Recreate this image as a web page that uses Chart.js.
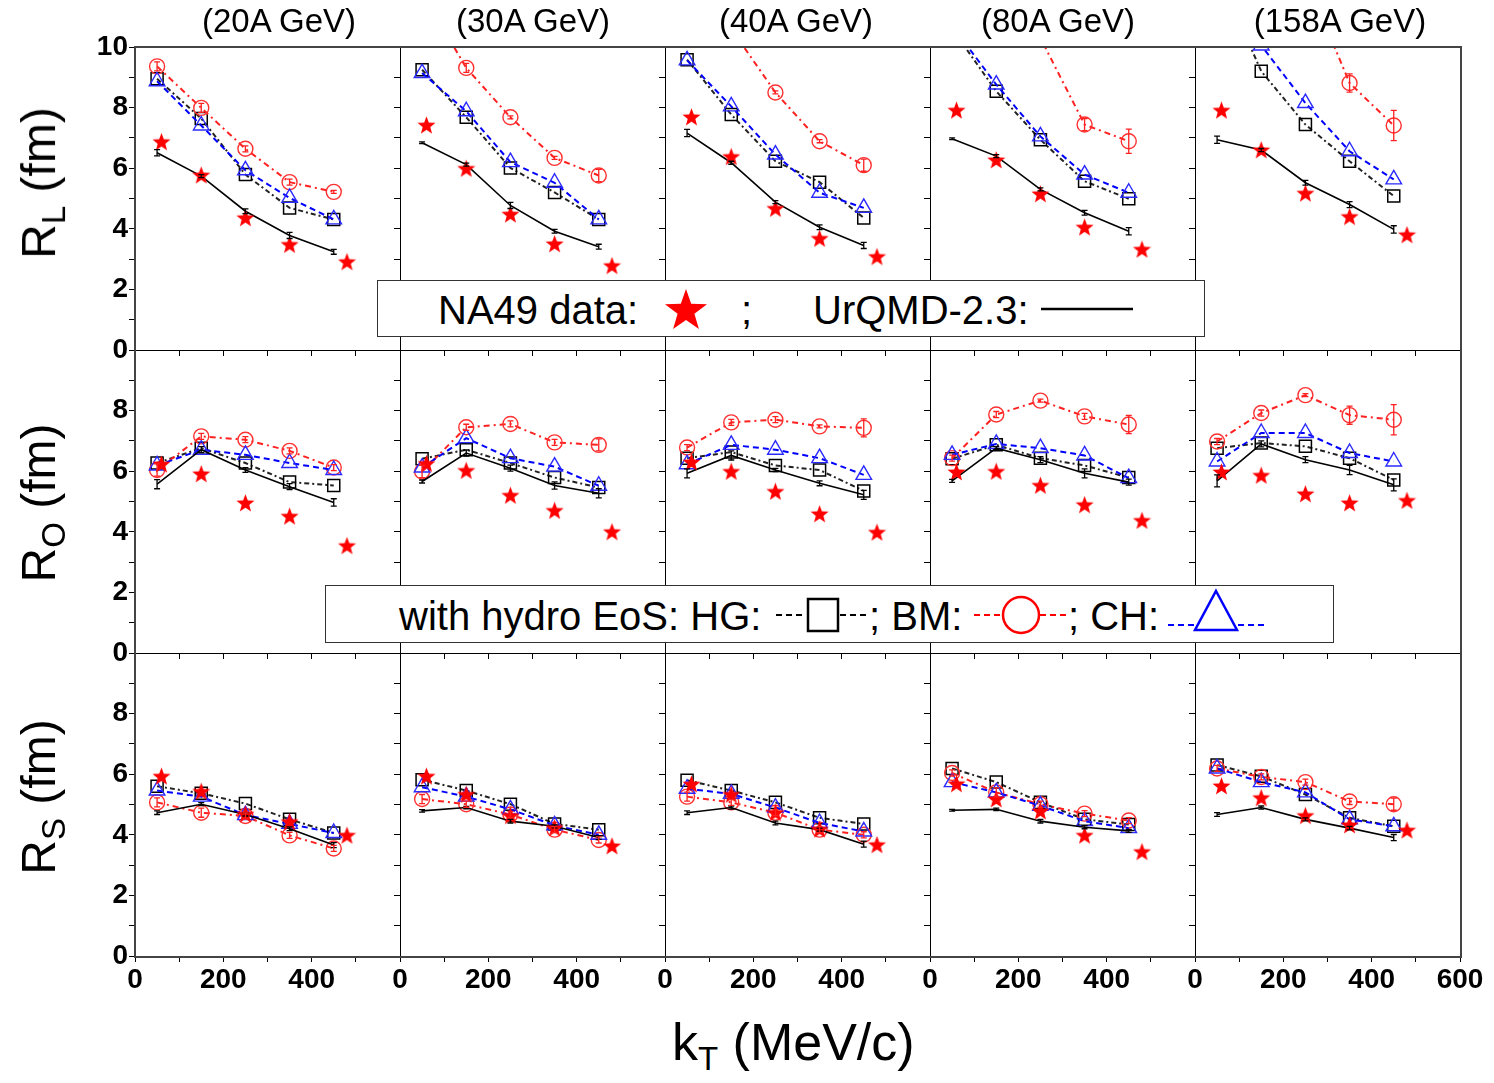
<!DOCTYPE html>
<html>
<head>
<meta charset="utf-8">
<script src="https://cdn.jsdelivr.net/npm/chart.js@4.4.0/dist/chart.umd.min.js"></script>
<style>
  body { margin: 0; background: #fff; width: 1494px; height: 1083px; position: relative; overflow: hidden;
         font-family: "Liberation Sans", Arial, sans-serif; color: #000; }
  .panel { position: absolute; }
  .title { position: absolute; top: 2px; font-size: 33px; transform: translateX(-50%); white-space: nowrap; }
  .ylab { position: absolute; font-size: 48px; white-space: nowrap; transform: translate(-50%, -50%) rotate(-90deg); }
  .ylab sub, .xlab sub { font-size: 33px; vertical-align: -0.3em; }
  .xlab { position: absolute; font-size: 52px; white-space: nowrap; left: 672px; top: 1012px; }
  .legend { position: absolute; background: #fff; border: 1.5px solid #333; z-index: 5; }
  .legend span { position: absolute; font-size: 40px; line-height: 40px; white-space: nowrap; }
  .legend svg { position: absolute; }
  #frame { position: absolute; box-sizing: border-box; left: 134px; top: 46px; width: 1328px; height: 912px; border: 2px solid #444; pointer-events: none; z-index: 4; }
</style>
</head>
<body>
<div id="frame"></div>

<script>
const energies = ['(20A GeV)', '(30A GeV)', '(40A GeV)', '(80A GeV)', '(158A GeV)'];
const kT = [50, 150, 250, 350, 450];
const kTdata = [60, 150, 250, 350, 480];
const radii = ['L', 'O', 'S'];

// R_L, one row per energy
const rL_na49 = [[6.89, 5.79, 4.38, 3.5, 2.93], [7.44, 6.01, 4.5, 3.52, 2.8], [7.71, 6.4, 4.69, 3.7, 3.1], [7.93, 6.29, 5.17, 4.07, 3.34], [7.93, 6.62, 5.19, 4.42, 3.82]];
const rL_urqmd = [[6.51, 5.74, 4.58, 3.78, 3.24], [6.84, 6.12, 4.77, 3.92, 3.41], [7.16, 6.18, 4.88, 4.05, 3.45], [6.97, 6.4, 5.3, 4.53, 3.92], [6.94, 6.6, 5.52, 4.8, 3.98]];
const rL_hg = [[8.95, 7.64, 5.79, 4.69, 4.31], [9.25, 7.68, 6.01, 5.2, 4.31], [9.58, 7.77, 6.23, 5.54, 4.36], [10.6, 8.54, 6.94, 5.57, 4.99], [12.5, 9.2, 7.44, 6.23, 5.08]];
const rL_bm = [[9.36, 7.99, 6.64, 5.54, 5.22], [11.8, 9.31, 7.68, 6.34, 5.76], [12.5, 10.6, 8.5, 6.89, 6.1], [13.0, 12.0, 10.3, 7.44, 6.89], [15.0, 13.8, 12.3, 8.81, 7.41]];
const rL_ch = [[8.87, 7.41, 5.93, 5.02, 4.31], [9.14, 7.88, 6.2, 5.52, 4.31], [9.56, 8.04, 6.45, 5.19, 4.69], [10.7, 8.76, 7.05, 5.79, 5.19], [12.0, 10.05, 8.15, 6.56, 5.63]];
const rL_urqmdErr = [[0.1, 0.05, 0.08, 0.1, 0.08], [0.03, 0.05, 0.1, 0.06, 0.08], [0.12, 0.05, 0.05, 0.08, 0.1], [0.03, 0.05, 0.05, 0.08, 0.12], [0.12, 0.05, 0.08, 0.1, 0.12]];
const rL_bmErr = [[0.15, 0.15, 0.1, 0.1, 0.05], [0, 0.15, 0.05, 0.05, 0.2], [0, 0, 0.05, 0.05, 0.2], [0, 0, 0, 0.2, 0.4], [0, 0, 0, 0.3, 0.5]];

// R_O
const rO_na49 = [[6.25, 5.93, 4.97, 4.53, 3.56], [6.27, 6.04, 5.22, 4.72, 4.02], [6.32, 6.01, 5.35, 4.61, 4.0], [5.99, 6.01, 5.55, 4.91, 4.39], [5.99, 5.88, 5.27, 4.97, 5.05]];
const rO_urqmd = [[5.57, 6.71, 6.04, 5.49, 4.97], [5.66, 6.6, 6.1, 5.53, 5.27], [5.93, 6.52, 6.04, 5.6, 5.22], [5.68, 6.76, 6.38, 5.93, 5.64], [5.68, 6.9, 6.38, 6.04, 5.55]];
const rO_hg = [[6.27, 6.76, 6.27, 5.64, 5.53], [6.41, 6.71, 6.27, 5.79, 5.46], [6.43, 6.63, 6.19, 6.04, 5.35], [6.41, 6.87, 6.43, 6.19, 5.79], [6.76, 6.93, 6.82, 6.43, 5.71]];
const rO_bm = [[6.04, 7.15, 7.04, 6.67, 6.12], [5.99, 7.45, 7.56, 6.95, 6.87], [6.78, 7.61, 7.7, 7.48, 7.43], [6.43, 7.87, 8.33, 7.81, 7.54], [6.98, 7.92, 8.51, 7.85, 7.7]];
const rO_ch = [[6.19, 6.71, 6.54, 6.27, 6.04], [6.12, 7.09, 6.43, 6.15, 5.52], [6.23, 6.87, 6.71, 6.43, 5.88], [6.54, 6.9, 6.76, 6.52, 5.77], [6.32, 7.26, 7.26, 6.6, 6.32]];
const rO_urqmdErr = [[0.15, 0.1, 0.08, 0.1, 0.12], [0.05, 0.1, 0.1, 0.12, 0.15], [0.15, 0.15, 0.05, 0.08, 0.15], [0.05, 0.05, 0.1, 0.15, 0.1], [0.2, 0.1, 0.1, 0.15, 0.2]];
const rO_bmErr = [[0.2, 0.1, 0.1, 0.1, 0.1], [0.2, 0.1, 0.1, 0.1, 0.2], [0.1, 0.1, 0.1, 0.05, 0.3], [0.1, 0.1, 0.05, 0.1, 0.3], [0.1, 0.1, 0.05, 0.3, 0.5]];

// R_S
const rS_na49 = [[5.95, 5.45, 4.7, 4.45, 4.0], [5.95, 5.35, 4.65, 4.25, 3.65], [5.69, 5.35, 4.75, 4.2, 3.69], [5.7, 5.2, 4.8, 4.0, 3.46], [5.63, 5.24, 4.65, 4.34, 4.17]];
const rS_urqmd = [[4.73, 5.01, 4.67, 4.2, 3.66], [4.79, 4.9, 4.45, 4.28, 3.91], [4.73, 4.9, 4.39, 4.17, 3.69], [4.81, 4.84, 4.45, 4.25, 4.13], [4.67, 4.9, 4.51, 4.22, 3.91]];
const rS_hg = [[5.6, 5.37, 5.03, 4.51, 4.06], [5.82, 5.46, 5.01, 4.36, 4.17], [5.8, 5.46, 5.07, 4.56, 4.36], [6.19, 5.74, 5.07, 4.51, 4.34], [6.3, 5.93, 5.33, 4.56, 4.28]];
const rS_bm = [[5.07, 4.73, 4.62, 3.98, 3.55], [5.18, 5.01, 4.67, 4.17, 3.83], [5.26, 5.07, 4.73, 4.17, 4.0], [6.04, 5.4, 5.01, 4.7, 4.47], [6.19, 5.91, 5.74, 5.1, 5.01]];
const rS_ch = [[5.46, 5.26, 4.65, 4.36, 4.06], [5.57, 5.26, 4.84, 4.31, 4.0], [5.52, 5.35, 4.9, 4.39, 4.11], [5.74, 5.4, 4.96, 4.45, 4.22], [6.19, 5.74, 5.4, 4.51, 4.28]];
const rS_urqmdErr = [[0.06, 0.05, 0.05, 0.06, 0.08], [0.04, 0.04, 0.06, 0.05, 0.06], [0.06, 0.05, 0.06, 0.05, 0.1], [0.03, 0.04, 0.06, 0.05, 0.05], [0.06, 0.05, 0.05, 0.06, 0.1]];
const rS_bmErr = [[0.15, 0.15, 0.1, 0.1, 0.1], [0.15, 0.1, 0.1, 0.1, 0.1], [0.15, 0.1, 0.1, 0.1, 0.1], [0.1, 0.15, 0.1, 0.1, 0.1], [0.1, 0.1, 0.1, 0.1, 0.2]];

const rows = [
  { na49: rL_na49, urqmd: rL_urqmd, hg: rL_hg, bm: rL_bm, ch: rL_ch, uErr: rL_urqmdErr, bErr: rL_bmErr },
  { na49: rO_na49, urqmd: rO_urqmd, hg: rO_hg, bm: rO_bm, ch: rO_ch, uErr: rO_urqmdErr, bErr: rO_bmErr },
  { na49: rS_na49, urqmd: rS_urqmd, hg: rS_hg, bm: rS_bm, ch: rS_ch, uErr: rS_urqmdErr, bErr: rS_bmErr }
];

// panel geometry
const colLeft = [135, 400, 665, 930, 1195];
const rowTop = [47, 350, 653];
const plotW = 265, plotH = 303;
const padL = 70, padR = 30, padT = 24, padB = 50;
const tickFont = { family: "'Liberation Sans', Arial, sans-serif", size: 28, weight: 'bold' };

function starImage(size, color) {
  const c = document.createElement('canvas');
  c.width = c.height = size;
  const g = c.getContext('2d');
  const R = size / 2, r = R * 0.42;
  g.beginPath();
  for (let i = 0; i < 10; i++) {
    const a = -Math.PI / 2 + i * Math.PI / 5;
    const rr = i % 2 ? r : R;
    g.lineTo(R + rr * Math.cos(a), R + 1.2 + rr * Math.sin(a));
  }
  g.closePath();
  g.fillStyle = color;
  g.fill();
  return c;
}
const star = starImage(19, '#ff0000');

const framePlugin = {
  id: 'frame',
  afterDraw(chart) {
    const { ctx, chartArea: a } = chart;
    ctx.save();
    ctx.strokeStyle = '#000';
    ctx.lineWidth = 1;
    ctx.strokeRect(a.left + 0.5, a.top + 0.5, a.right - a.left, a.bottom - a.top);
    ctx.restore();
  }
};

const errorBars = {
  id: 'errorBars',
  afterDatasetsDraw(chart) {
    const { ctx, chartArea: a, scales: { x, y } } = chart;
    ctx.save();
    ctx.beginPath();
    ctx.rect(a.left, a.top, a.right - a.left, a.bottom - a.top);
    ctx.clip();
    chart.data.datasets.forEach(ds => {
      if (!ds.err) return;
      ctx.strokeStyle = ds.borderColor;
      ctx.lineWidth = 1.3;
      ds.data.forEach((p, i) => {
        const e = ds.err[i];
        if (!e) return;
        const px = x.getPixelForValue(p.x);
        const y1 = y.getPixelForValue(p.y - e), y2 = y.getPixelForValue(p.y + e);
        ctx.beginPath();
        ctx.moveTo(px, y1); ctx.lineTo(px, y2);
        ctx.moveTo(px - 3, y1); ctx.lineTo(px + 3, y1);
        ctx.moveTo(px - 3, y2); ctx.lineTo(px + 3, y2);
        ctx.stroke();
      });
    });
    ctx.restore();
  }
};

const pts = (xs, ys) => xs.map((x, i) => ({ x, y: ys[i] }));

function makePanel(r, c) {
  const d = rows[r];
  const div = document.createElement('div');
  div.className = 'panel';
  div.style.left = (colLeft[c] - padL) + 'px';
  div.style.top = (rowTop[r] - padT) + 'px';
  const cv = document.createElement('canvas');
  cv.width = plotW + padL + padR;
  cv.height = plotH + padT + padB;
  div.appendChild(cv);
  document.body.appendChild(div);

  const datasets = [
    { data: pts(kTdata, d.na49[c]), showLine: false, pointStyle: star, pointRadius: 9, borderColor: '#ff0000', order: 0 },
    { data: pts(kT, d.urqmd[c]), showLine: true, borderColor: '#000', borderWidth: 1.6, pointRadius: 0, err: d.uErr[c], order: 1 },
    { data: pts(kT, d.ch[c]), showLine: true, borderColor: '#0000ff', borderWidth: 2, borderDash: [6, 4],
      pointStyle: 'triangle', pointRadius: 9, pointBorderWidth: 1.4, pointBorderColor: '#2a2aff', pointBackgroundColor: 'rgba(0,0,0,0)', order: 2 },
    { data: pts(kT, d.bm[c]), showLine: true, borderColor: '#ff2020', borderWidth: 2, borderDash: [6, 4, 2, 4],
      pointStyle: 'circle', pointRadius: 7.5, pointBorderWidth: 1.4, pointBorderColor: '#ff3030', pointBackgroundColor: 'rgba(0,0,0,0)', err: d.bErr[c], order: 3 },
    { data: pts(kT, d.hg[c]), showLine: true, borderColor: '#222', borderWidth: 2, borderDash: [5, 3, 2, 3],
      pointStyle: 'rect', pointRadius: 8.5, pointBorderWidth: 1.5, pointBorderColor: '#000', pointBackgroundColor: 'rgba(0,0,0,0)', order: 4 }
  ];

  new Chart(cv, {
    type: 'scatter',
    data: { datasets },
    options: {
      responsive: false,
      animation: false,
      events: [],
      layout: { padding: { top: padT, right: padR, left: 0, bottom: 0 } },
      plugins: { legend: { display: false }, tooltip: { enabled: false } },
      scales: {
        x: {
          type: 'linear', min: 0, max: 600,
          border: { display: false },
          grid: { display: true, drawOnChartArea: false, drawTicks: true, tickLength: 6, color: '#000', lineWidth: 1 },
          ticks: {
            stepSize: 100, autoSkip: false, maxRotation: 0, padding: 1, color: '#000', font: tickFont,
            callback: v => (r === 2 && v % 200 === 0 && (v < 600 || c === 4)) ? v : ''
          },
          afterFit: s => { s.height = padB; }
        },
        y: {
          type: 'linear', min: 0, max: 10,
          border: { display: false },
          grid: { display: true, drawOnChartArea: false, drawTicks: true, tickLength: 6, color: '#000', lineWidth: 1 },
          ticks: {
            stepSize: 1, autoSkip: false, padding: 1, color: '#000', font: tickFont,
            callback: v => (c === 0 && v % 2 === 0 && (r === 0 || v < 10)) ? v : ''
          },
          afterFit: s => { s.width = padL; }
        }
      }
    },
    plugins: [framePlugin, errorBars]
  });
}

for (let r = 0; r < 3; r++) {
  for (let c = 0; c < 5; c++) makePanel(r, c);
}

// titles and axis labels
const titleCenters = [279, 533, 796, 1058, 1340];
energies.forEach((e, i) => {
  const t = document.createElement('div');
  t.className = 'title';
  t.style.left = titleCenters[i] + 'px';
  t.textContent = e;
  document.body.appendChild(t);
});
const rowCenters = [183, 503, 797];
radii.forEach((s, i) => {
  const l = document.createElement('div');
  l.className = 'ylab';
  l.style.left = '42px';
  l.style.top = rowCenters[i] + 'px';
  l.innerHTML = 'R<sub>' + s + '</sub> (fm)';
  document.body.appendChild(l);
});
</script>

<div class="xlab">k<sub>T</sub> (MeV/c)</div>

<div class="legend" style="left:377px; top:280px; width:826px; height:55px;">
  <span style="left:60px; top:9px;">NA49 data:</span>
  <svg style="left:285px; top:6px;" width="46" height="44" viewBox="0 0 46 44">
    <polygon fill="#ff0000" points="23,2 28.2,16.8 44,17.2 31.4,26.8 35.9,42 23,33 10.1,42 14.6,26.8 2,17.2 17.8,16.8"/>
  </svg>
  <span style="left:363px; top:9px;">;</span>
  <span style="left:435px; top:9px;">UrQMD-2.3:</span>
  <svg style="left:662px; top:20px;" width="94" height="16"><line x1="1" y1="8" x2="93" y2="8" stroke="#000" stroke-width="2.5"/></svg>
</div>

<div class="legend" style="left:325px; top:585px; width:1007px; height:56px;">
  <span style="left:73px; top:10px;">with hydro EoS: HG:</span>
  <svg style="left:448px; top:8px;" width="96" height="40">
    <line x1="2" y1="21" x2="32" y2="21" stroke="#000" stroke-width="2" stroke-dasharray="6,4"/>
    <line x1="66" y1="21" x2="94" y2="21" stroke="#000" stroke-width="2" stroke-dasharray="6,4"/>
    <rect x="34" y="5" width="30" height="32" fill="none" stroke="#000" stroke-width="2.5"/>
  </svg>
  <span style="left:543px; top:10px;">; BM:</span>
  <svg style="left:646px; top:8px;" width="98" height="42">
    <line x1="2" y1="21" x2="30" y2="21" stroke="#ff0000" stroke-width="2" stroke-dasharray="6,4"/>
    <line x1="68" y1="21" x2="96" y2="21" stroke="#ff0000" stroke-width="2" stroke-dasharray="6,4"/>
    <ellipse cx="49" cy="21" rx="18" ry="18" fill="none" stroke="#ff0000" stroke-width="2.5"/>
  </svg>
  <span style="left:742px; top:10px;">; CH:</span>
  <svg style="left:840px; top:2px;" width="100" height="46">
    <line x1="2" y1="37" x2="28" y2="37" stroke="#0000ff" stroke-width="2" stroke-dasharray="6,4"/>
    <line x1="72" y1="37" x2="98" y2="37" stroke="#0000ff" stroke-width="2" stroke-dasharray="6,4"/>
    <polygon points="50,3 71,42 29,42" fill="none" stroke="#0000ff" stroke-width="2.5"/>
  </svg>
</div>
</body>
</html>
